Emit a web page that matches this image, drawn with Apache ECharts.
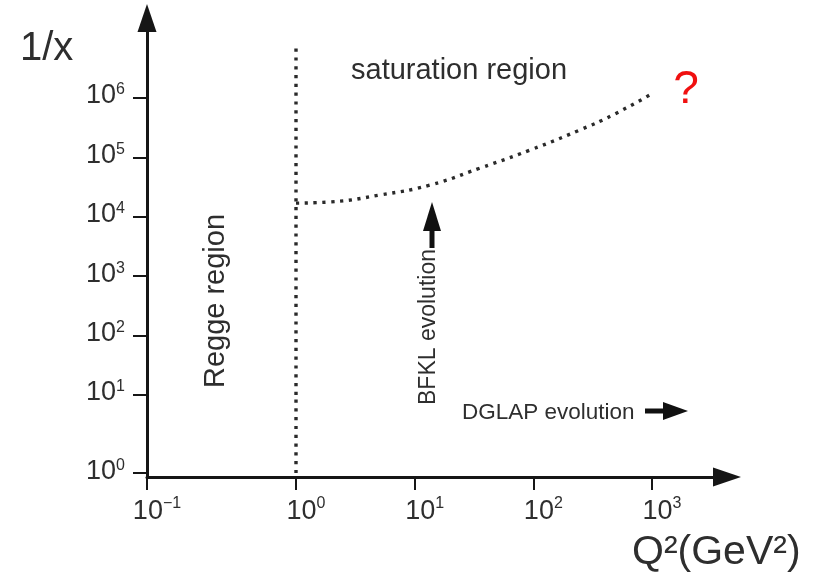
<!DOCTYPE html>
<html><head><meta charset="utf-8">
<script src="https://cdn.jsdelivr.net/npm/echarts@6/dist/echarts.min.js"></script>
<style>html,body{margin:0;padding:0;background:#fff}#c{width:819px;height:577px}</style>
</head><body><div id="c"></div>
<script>
// ---- data ----
const xTickExps = [-1, 0, 1, 2, 3];            // Q² tick decades (10^e GeV²)
const yTickExps = [0, 1, 2, 3, 4, 5, 6];       // 1/x tick decades
const reggeQ2 = [1, 1];                        // Regge boundary (Q² = 1 GeV²)
const reggeInvX = [1, 7e6];
const satQ2 = [1, 1.94, 5.1, 13.5, 35.5, 94, 246, 468, 1020];            // saturation line
const satInvX = [1.7e4, 1.78e4, 2.33e4, 3.43e4, 6.6e4, 1.33e5, 2.89e5, 5.18e5, 1.21e6];

// ---- layout / style ----
const FONT = "'Liberation Sans', Arial, sans-serif";
const TXT = '#2e2e2e';
const AX = '#161616';
const L = Math.log10;
const split = 1; // decade where the hand-drawn axes change spacing
const xLeft = [-1, 0], xRight = [0, 3.632];
const yBot = [-0.05, 1], yTop = [1, 7.347];

const sup = e => (e < 0 ? '\u2212' + (-e) : String(e));
const fmt = v => '{a|10}{s|' + sup(v) + '}';
const richX = {
  a: {fontSize: 27, lineHeight: 32, color: TXT, fontFamily: FONT, padding: [0, 0, 0, 20]},
  s: {fontSize: 16, lineHeight: 20, verticalAlign: 'top', color: TXT, fontFamily: FONT}
};
const richY = {
  a: {fontSize: 27, lineHeight: 32, color: TXT, fontFamily: FONT, padding: [0, 0, 4, 0]},
  s: {fontSize: 16, lineHeight: 20, verticalAlign: 'top', color: TXT, fontFamily: FONT}
};
const lineStyle = {color: AX, width: 3};
const tickStyle = {color: AX, width: 2};

function xAx(grid, range, ticks, show, arrow) {
  return {
    type: 'value', gridIndex: grid, min: range[0], max: range[1], show: show,
    axisLine: {show: true, onZero: false, lineStyle: lineStyle,
      symbol: arrow ? ['none', 'triangle'] : 'none', symbolSize: [19, 28]},
    axisTick: {show: true, length: 13, lineStyle: tickStyle, customValues: ticks},
    axisLabel: {show: true, customValues: ticks, margin: 19, formatter: fmt, rich: richX},
    splitLine: {show: false}
  };
}
function yAx(grid, range, ticks, show, arrow) {
  return {
    type: 'value', gridIndex: grid, min: range[0], max: range[1], show: show,
    axisLine: {show: true, onZero: false, lineStyle: lineStyle,
      symbol: arrow ? ['none', 'triangle'] : 'none', symbolSize: [19, 28]},
    axisTick: {show: true, length: 14, lineStyle: tickStyle, customValues: ticks},
    axisLabel: {show: true, customValues: ticks, margin: 22, formatter: fmt, rich: richY},
    splitLine: {show: false}
  };
}

const xl = xTickExps.filter(e => e < 0), xr = xTickExps.filter(e => e >= 0);
const yb = yTickExps.filter(e => e < split), yt = yTickExps.filter(e => e >= split);

const dotted = {color: '#2a2a2a', width: 3.4, type: [3.2, 5.6]};
const reggeLow = [[L(reggeQ2[0]), L(reggeInvX[0])], [L(reggeQ2[1]), split]];
const reggeHigh = [[L(reggeQ2[0]), split], [L(reggeQ2[1]), L(reggeInvX[1])]];
const satData = satQ2.map((q, i) => [L(q), L(satInvX[i])]);

const chart = echarts.init(document.getElementById('c'), null, {renderer: 'canvas'});
chart.setOption({
  backgroundColor: '#fff',
  animation: false,
  grid: [
    {left: 147, top: 395, width: 149, height: 82},
    {left: 296, top: 395, width: 431, height: 82},
    {left: 147, top: 18, width: 149, height: 377},
    {left: 296, top: 18, width: 431, height: 377}
  ],
  xAxis: [
    xAx(0, xLeft, xl, true, false),
    xAx(1, xRight, xr, true, true),
    xAx(2, xLeft, [], false, false),
    xAx(3, xRight, [], false, false)
  ],
  yAxis: [
    yAx(0, yBot, yb, true, false),
    yAx(1, yBot, [], false, false),
    yAx(2, yTop, yt, true, true),
    yAx(3, yTop, [], false, false)
  ],
  series: [
    {type: 'line', xAxisIndex: 1, yAxisIndex: 1, data: reggeLow, showSymbol: false, clip: false, lineStyle: dotted},
    {type: 'line', xAxisIndex: 3, yAxisIndex: 3, data: reggeHigh, showSymbol: false, clip: false, lineStyle: dotted},
    {type: 'line', xAxisIndex: 3, yAxisIndex: 3, data: satData, smooth: true, showSymbol: false, clip: false, lineStyle: dotted}
  ],
  graphic: [
    {type: 'text', x: 20, y: 49, style: {text: '1/x', font: '40px ' + FONT, fill: TXT, align: 'left', verticalAlign: 'middle'}},
    {type: 'text', x: 632, y: 553, style: {text: 'Q\u00b2(GeV\u00b2)', font: '41px ' + FONT, fill: TXT, align: 'left', verticalAlign: 'middle'}},
    {type: 'text', x: 351, y: 71, style: {text: 'saturation region', font: '29px ' + FONT, fill: TXT, align: 'left', verticalAlign: 'middle'}},
    {type: 'text', x: 686, y: 90, style: {text: '?', font: '46px ' + FONT, fill: '#f01010', align: 'center', verticalAlign: 'middle'}},
    {type: 'text', x: 216, y: 301, rotation: Math.PI / 2, style: {text: 'Regge region', font: '29px ' + FONT, fill: TXT, align: 'center', verticalAlign: 'middle'}},
    {type: 'text', x: 429, y: 327, rotation: Math.PI / 2, style: {text: 'BFKL evolution', font: '23px ' + FONT, fill: TXT, align: 'center', verticalAlign: 'middle'}},
    {type: 'text', x: 462, y: 413, style: {text: 'DGLAP evolution', font: '22.5px ' + FONT, fill: TXT, align: 'left', verticalAlign: 'middle'}},
    {type: 'line', shape: {x1: 432, y1: 229, x2: 432, y2: 248}, style: {stroke: '#111', lineWidth: 5}},
    {type: 'polygon', shape: {points: [[432, 202], [423, 231], [441, 231]]}, style: {fill: '#111'}},
    {type: 'line', shape: {x1: 645, y1: 411, x2: 666, y2: 411}, style: {stroke: '#111', lineWidth: 5}},
    {type: 'polygon', shape: {points: [[688, 411], [663, 402], [663, 420]]}, style: {fill: '#111'}}
  ]
});
</script>
</body></html>
